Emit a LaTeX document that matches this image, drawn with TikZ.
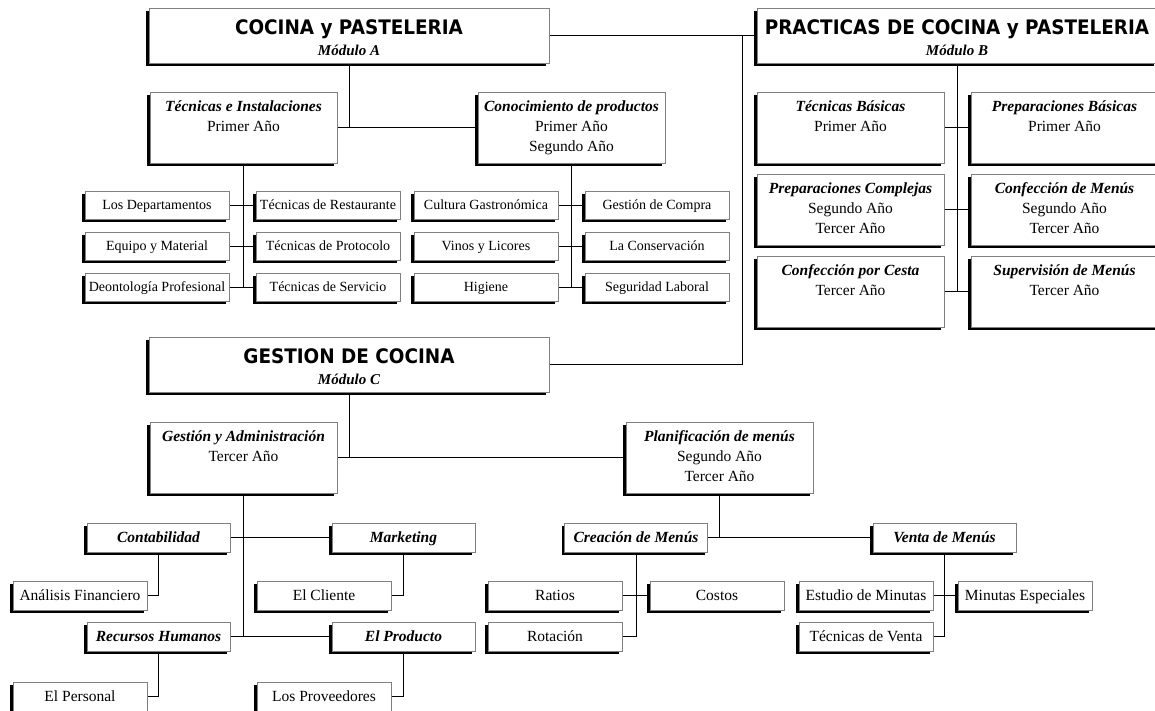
\documentclass[tikz,border=0pt]{standalone}
\usepackage{fontspec}
\setmainfont{Liberation Serif}
\newfontfamily\titlefont{DejaVu Sans}[FakeStretch=0.92]
\usetikzlibrary{shadows}
\pgfdeclarelayer{paper}
\pgfdeclarelayer{lines}
\pgfsetlayers{paper,lines,main}
\definecolor{bordergray}{RGB}{128,128,128}
\newcommand{\hd}[1]{\textbf{\textit{#1}}}
\newcommand{\ttl}[1]{{\titlefont\bfseries\fontsize{20}{24}\selectfont\rule{0pt}{19pt}#1}}
\newcommand{\modl}[1]{{\bfseries\itshape #1}}
\tikzset{
  sbox/.style={draw=bordergray, fill=white, line width=0.8pt, inner sep=0pt, align=center,
    drop shadow={shadow xshift=-3pt, shadow yshift=-3pt, fill=black, opacity=1}},
  modbox/.style={sbox, minimum width=400pt, minimum height=55pt, font=\fontsize{15}{21}\selectfont},
  midbox/.style={sbox, minimum width=187pt, minimum height=71pt, font=\fontsize{15.5}{20}\selectfont},
  leaftop/.style={sbox, minimum width=144pt, minimum height=28pt, text height=12pt, text depth=3pt,
    font=\fontsize{14}{16}\selectfont},
  subbox/.style={sbox, minimum width=143pt, minimum height=29pt, text height=13.5pt, text depth=3pt,
    font=\fontsize{15.5}{18}\selectfont\bfseries\itshape},
  leafbot/.style={sbox, minimum width=134pt, minimum height=29pt, text height=13.5pt, text depth=3pt,
    font=\fontsize{15.5}{18}\selectfont},
  conn/.style={draw=black, line width=0.9pt},
}
\begin{document}
\begin{tikzpicture}[x=1pt, y=-1pt]
\begin{pgfonlayer}{paper}
\fill[white] (0,0) rectangle (1155,710);
\end{pgfonlayer}
\useasboundingbox (0,0) rectangle (1155,710);

% ---- Module A / B ----
\node[modbox] (A) at (349,35.5) {\ttl{COCINA y PASTELERIA}\\\modl{Módulo A}};
\node[modbox] (B) at (957,35.5) {\ttl{PRACTICAS DE COCINA y PASTELERIA}\\\modl{Módulo B}};
\coordinate (jv) at (742,35.5);

\node[midbox] (TI) at (243.5,127.5) {\strut\hd{Técnicas e Instalaciones}\\Primer Año\\\strut};
\node[midbox] (CP) at (571.5,127.5) {\strut\hd{Conocimiento de productos}\\Primer Año\\Segundo Año\strut};

\node[leaftop] (LD) at (157,205) {Los Departamentos};
\node[leaftop] (TR) at (328,205) {Técnicas de Restaurante};
\node[leaftop] (EQ) at (157,246) {Equipo y Material};
\node[leaftop] (TP) at (328,246) {Técnicas de Protocolo};
\node[leaftop] (DP) at (157,287) {Deontología Profesional};
\node[leaftop] (TS) at (328,287) {Técnicas de Servicio};
\node[leaftop] (CG) at (486,205) {Cultura Gastronómica};
\node[leaftop] (GC) at (657,205) {Gestión de Compra};
\node[leaftop] (VL) at (486,246) {Vinos y Licores};
\node[leaftop] (LC) at (657,246) {La Conservación};
\node[leaftop] (HI) at (486,287) {Higiene};
\node[leaftop] (SL) at (657,287) {Seguridad Laboral};

\node[midbox] (TB) at (850.5,127.5) {\strut\hd{Técnicas Básicas}\\Primer Año\\\strut};
\node[midbox] (PB) at (1064.5,127.5) {\strut\hd{Preparaciones Básicas}\\Primer Año\\\strut};
\node[midbox] (PC) at (850.5,209.5) {\strut\hd{Preparaciones Complejas}\\Segundo Año\\Tercer Año\strut};
\node[midbox] (CF) at (1064.5,209.5) {\strut\hd{Confección de Menús}\\Segundo Año\\Tercer Año\strut};
\node[midbox] (CC) at (850.5,291.5) {\strut\hd{Confección por Cesta}\\Tercer Año\\\strut};
\node[midbox] (SM) at (1064.5,291.5) {\strut\hd{Supervisión de Menús}\\Tercer Año\\\strut};

% ---- Module C ----
\node[modbox] (C) at (349,364.5) {\ttl{GESTION DE COCINA}\\\modl{Módulo C}};
\node[midbox] (GA) at (243.5,457.5) {\strut\hd{Gestión y Administración}\\Tercer Año\\\strut};
\node[midbox] (PM) at (719.5,457.5) {\strut\hd{Planificación de menús}\\Segundo Año\\Tercer Año\strut};

\node[subbox] (CO) at (158.5,537.5) {Contabilidad};
\node[subbox] (MK) at (403.5,537.5) {Marketing};
\node[subbox] (RH) at (158.5,636.5) {Recursos Humanos};
\node[subbox] (EP) at (403.5,636.5) {El Producto};
\node[leafbot] (AF) at (80,595.5) {Análisis Financiero};
\node[leafbot] (EC) at (324,595.5) {El Cliente};
\node[leafbot] (PE) at (80,696.5) {El Personal};
\node[leafbot] (LP) at (324,696.5) {Los Proveedores};

\node[subbox] (CM) at (636,537.5) {Creación de Menús};
\node[subbox] (VM) at (944.5,537.5) {Venta de Menús};
\node[leafbot] (RA) at (555,595.5) {Ratios};
\node[leafbot] (CS) at (717,595.5) {Costos};
\node[leafbot] (RO) at (555,636.5) {Rotación};
\node[leafbot] (EM) at (866,595.5) {Estudio de Minutas};
\node[leafbot] (ME) at (1025,595.5) {Minutas Especiales};
\node[leafbot] (TV) at (866,636.5) {Técnicas de Venta};

% ---- connectors ----
\begin{pgfonlayer}{lines}
\draw[conn] (A.east) -- (B.west);
\draw[conn] (C.east) -| (jv);
\draw[conn] (A.south) -- (A.south |- TI.east);
\draw[conn] (TI.east) -- (CP.west);
\draw[conn] (TI.south) -- (TI.south |- DP.east);
\draw[conn] (LD.east) -- (TR.west);
\draw[conn] (EQ.east) -- (TP.west);
\draw[conn] (DP.east) -- (TS.west);
\draw[conn] (CP.south) -- (CP.south |- HI.east);
\draw[conn] (CG.east) -- (GC.west);
\draw[conn] (VL.east) -- (LC.west);
\draw[conn] (HI.east) -- (SL.west);
\draw[conn] (B.south) -- (B.south |- CC.east);
\draw[conn] (TB.east) -- (PB.west);
\draw[conn] (PC.east) -- (CF.west);
\draw[conn] (CC.east) -- (SM.west);
\draw[conn] (C.south) -- (C.south |- GA.east);
\draw[conn] (GA.east) -- (PM.west);
\draw[conn] (GA.south) -- (GA.south |- RH.east);
\draw[conn] (CO.east) -- (MK.west);
\draw[conn] (RH.east) -- (EP.west);
\draw[conn] (CO.south) |- (AF.east);
\draw[conn] (MK.south) |- (EC.east);
\draw[conn] (RH.south) |- (PE.east);
\draw[conn] (EP.south) |- (LP.east);
\draw[conn] (PM.south) -- (PM.south |- CM.east);
\draw[conn] (CM.east) -- (VM.west);
\draw[conn] (CM.south) |- (RO.east);
\draw[conn] (RA.east) -- (CS.west);
\draw[conn] (VM.south) |- (TV.east);
\draw[conn] (EM.east) -- (ME.west);
\end{pgfonlayer}
\end{tikzpicture}
\end{document}
